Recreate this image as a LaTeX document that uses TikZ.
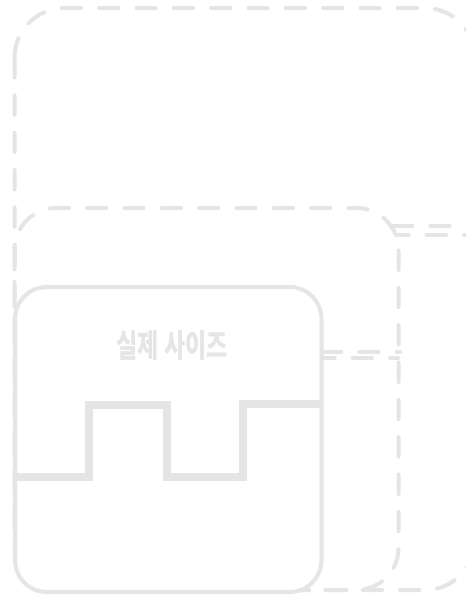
\documentclass[tikz,border=0pt]{standalone}
\usepackage{fontspec}
\usepackage{graphicx}
\newfontfamily\krfont{Noto Sans CJK KR}
\usetikzlibrary{positioning}
\definecolor{framegray}{HTML}{E5E5E4}

\begin{document}
\begin{tikzpicture}[x=0.75pt, y=-0.75pt,
    frame/.style={draw=framegray, line width=3pt, rounded corners=#1},
    guide/.style={draw=framegray, line width=3pt, line cap=round, dash pattern=on 14.5pt off 13.5pt},
    stepline/.style={draw=framegray, line width=6pt}]
        % Canvas
        \useasboundingbox[fill=white] (0,0) rectangle (465,596);

        % Largest outline, runs past the right edge
        \draw[guide, rounded corners=37.5pt] (14.5,8) rectangle (475,590);

        % Middle outline
        \draw[guide, rounded corners=31.5pt] (14.5,208) rectangle (398.5,590);

        % Doubled strokes
        \draw[guide] (393,226) -- (465,226);
        \draw[guide, dash phase=5pt] (396,235) -- (465,235);
        \draw[guide] (322,352) -- (400,352);
        \draw[guide, dash phase=5pt] (322,358) -- (398,358);

        % Actual size box
        \draw[frame=24pt, fill=white] (15,287) rectangle (321.5,592);

        % Step line
        \draw[stepline] (16,477) -- (89,477) -- (89,405) -- (167,405)
            -- (167,477) -- (243,477) -- (243,404) -- (320,404);

        % Label
        \node[text=framegray, font=\krfont\bfseries\fontsize{24}{28}\selectfont]
            (sizelabel) at (172,346) {\scalebox{0.72}[1]{실제 사이즈}};
\end{tikzpicture}
\end{document}
